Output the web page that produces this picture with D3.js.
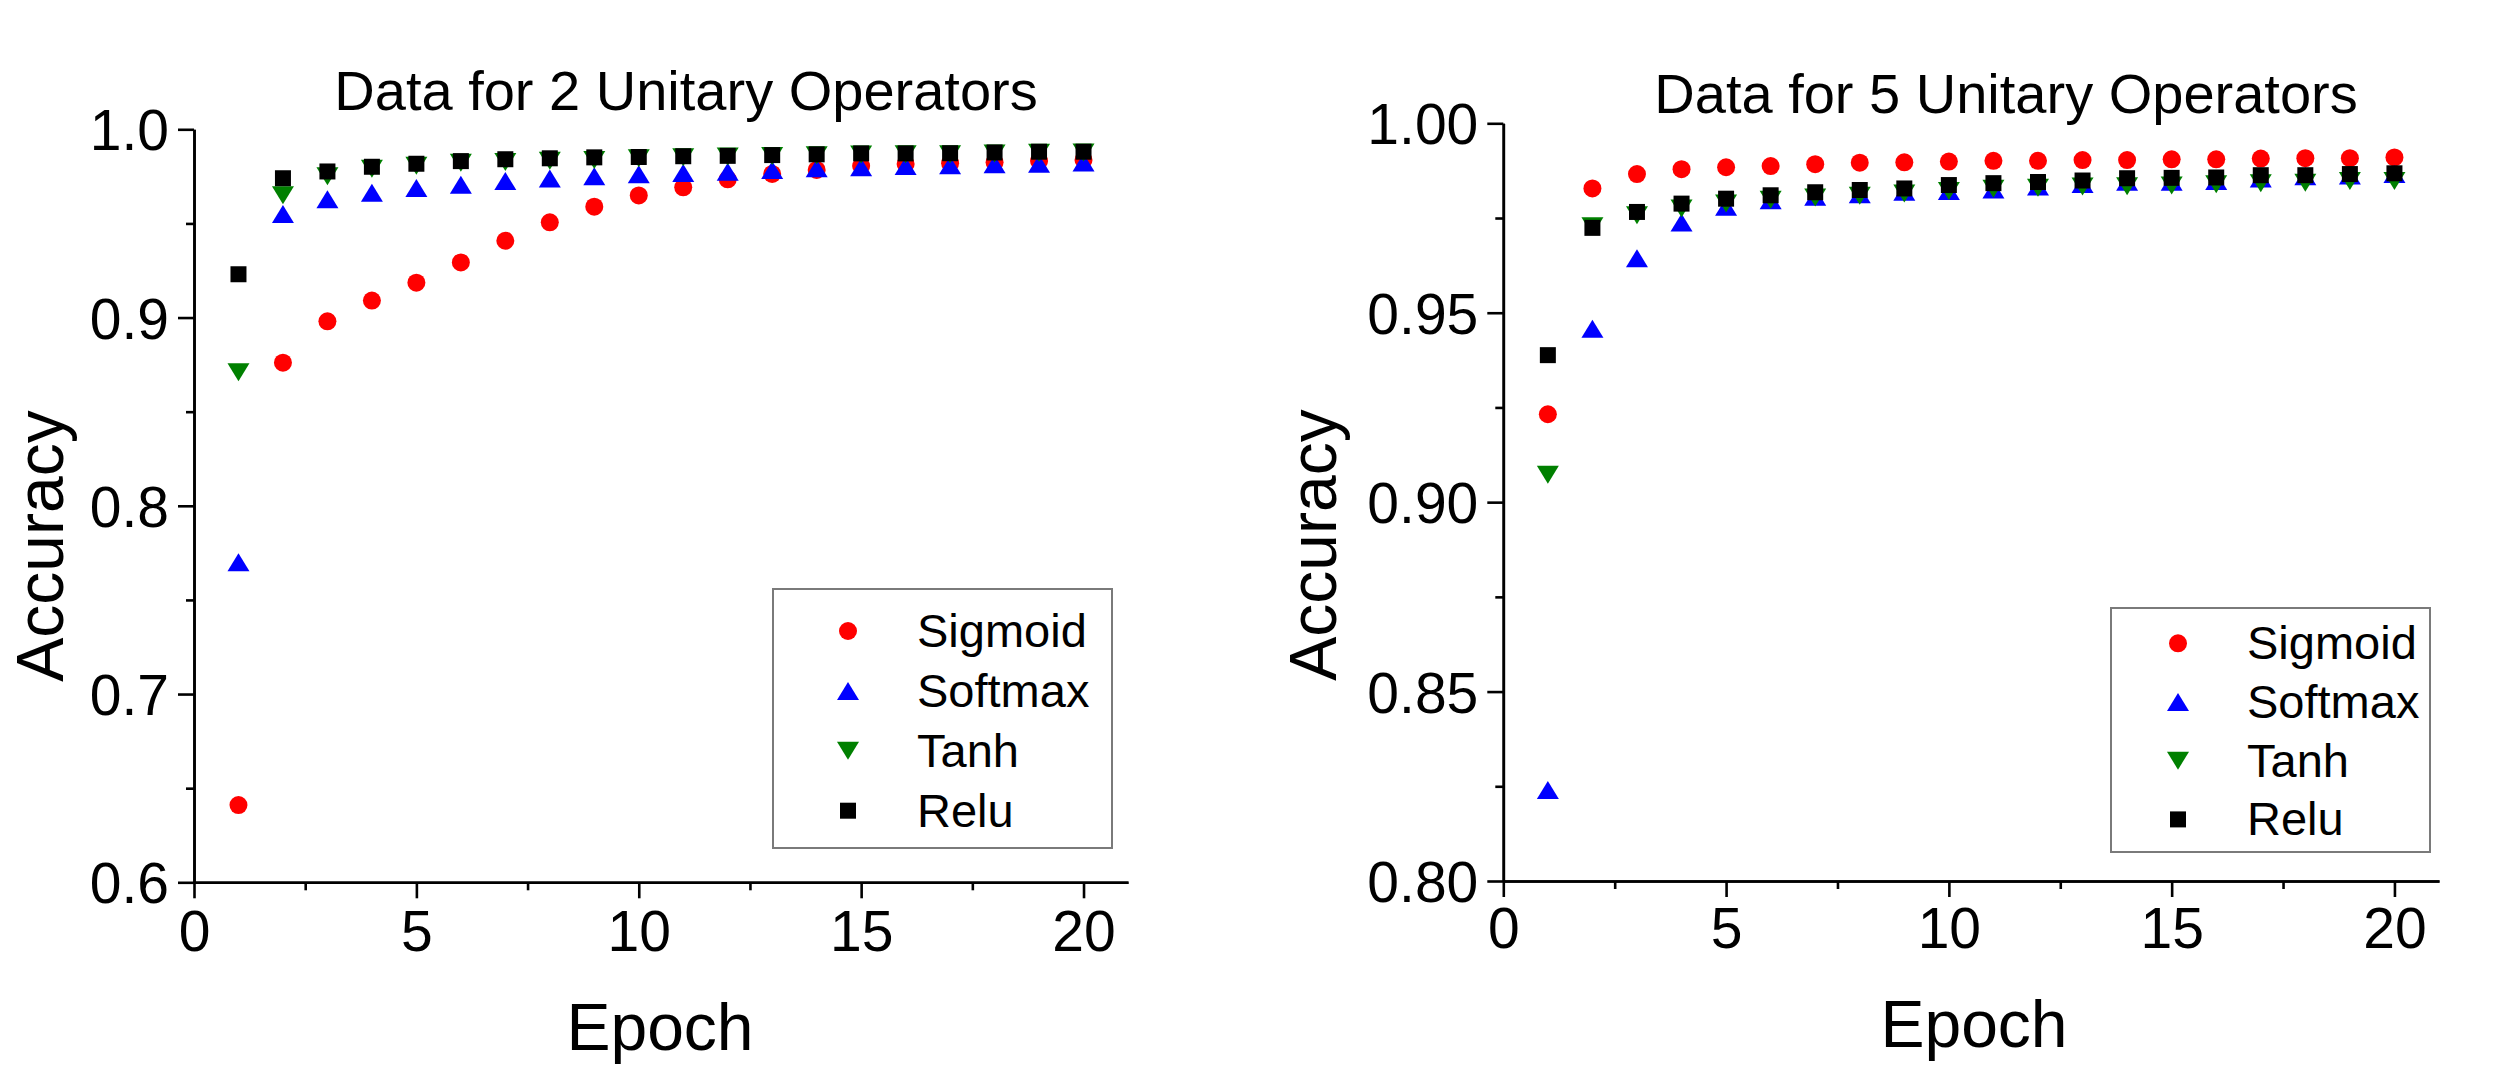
<!DOCTYPE html>
<html>
<head>
<meta charset="utf-8">
<script src="https://cdn.jsdelivr.net/npm/d3@7"></script>
<style>
  body { margin: 0; background: #fff; }
  svg { display: block; font-family: "Liberation Sans", Arial, sans-serif; }
</style>
</head>
<body>
<svg id="chart" width="2500" height="1090"></svg>
<script>
// epochs shared by both panels
var epochs = [1, 2, 3, 4, 5, 6, 7, 8, 9, 10, 11, 12, 13, 14, 15, 16, 17, 18, 19, 20];

// panel 1: 2 unitary operators
var sigmoid2 = [0.641, 0.876, 0.898, 0.909, 0.9185, 0.9293, 0.9408, 0.9506, 0.9589, 0.9649, 0.9692, 0.9734, 0.9763, 0.9784, 0.9805, 0.9816, 0.982, 0.9825, 0.9831, 0.9837];
var softmax2 = [0.770, 0.955, 0.9628, 0.9663, 0.9688, 0.9706, 0.9725, 0.9738, 0.975, 0.9761, 0.9768, 0.9775, 0.9784, 0.9793, 0.9798, 0.9805, 0.9809, 0.9814, 0.9817, 0.9823];
var tanh2 = [0.871, 0.965, 0.975, 0.979, 0.9806, 0.9822, 0.9826, 0.9833, 0.9837, 0.9846, 0.9852, 0.9855, 0.9858, 0.9862, 0.9866, 0.9867, 0.9868, 0.9872, 0.9876, 0.9877];
var relu2 = [0.923, 0.974, 0.9776, 0.9801, 0.9817, 0.9831, 0.9841, 0.9846, 0.9851, 0.9853, 0.9857, 0.9859, 0.9863, 0.9867, 0.9872, 0.9872, 0.9873, 0.9877, 0.9881, 0.9881];

// panel 2: 5 unitary operators
var sigmoid5 = [0.9232, 0.9828, 0.9866, 0.9879, 0.9884, 0.9887, 0.9892, 0.9896, 0.9897, 0.9899, 0.9901, 0.9901, 0.9903, 0.9903, 0.9905, 0.9905, 0.9907, 0.9908, 0.9908, 0.991];
var softmax5 = [0.824, 0.9458, 0.9644, 0.9738, 0.978, 0.9797, 0.9806, 0.9813, 0.9819, 0.9821, 0.9825, 0.9833, 0.984, 0.9846, 0.9846, 0.9848, 0.9854, 0.986, 0.9862, 0.9866];
var tanh5 = [0.9072, 0.9728, 0.9757, 0.9775, 0.9788, 0.9798, 0.9804, 0.9809, 0.9815, 0.9821, 0.9827, 0.983, 0.9833, 0.9834, 0.9836, 0.9839, 0.9842, 0.9843, 0.9848, 0.9848];
var relu5 = [0.9388, 0.9724, 0.9766, 0.9788, 0.9801, 0.981, 0.9818, 0.9824, 0.9828, 0.9837, 0.9842, 0.9845, 0.9849, 0.9855, 0.9856, 0.9857, 0.9863, 0.9863, 0.9866, 0.9868];

// tick labels
var xTicks = [0, 5, 10, 15, 20];
var xMinor = [2.5, 7.5, 12.5, 17.5];
var yTicks2 = [0.6, 0.7, 0.8, 0.9, 1.0];
var yMinor2 = [0.65, 0.75, 0.85, 0.95];
var yTicks5 = [0.80, 0.85, 0.90, 0.95, 1.00];
var yMinor5 = [0.825, 0.875, 0.925, 0.975];

var seriesNames = ['Sigmoid', 'Softmax', 'Tanh', 'Relu'];
var seriesColors = ['#ff0000', '#0000ff', '#008000', '#000000'];
var seriesShapes = ['circle', 'up', 'down', 'square'];

const svg = d3.select('#chart');
svg.append('rect').attr('width', 2500).attr('height', 1090).attr('fill', '#fff');

function marker(shape) {
  if (shape === 'circle') return 'M9,0A9,9 0 1,1 -9,0A9,9 0 1,1 9,0Z';
  if (shape === 'square') return 'M-8,-8H8V8H-8Z';
  if (shape === 'up') return 'M0,-9L11,9L-11,9Z';
  return 'M0,9L11,-9L-11,-9Z';
}

function drawPanel(cfg) {
  const x = d3.scaleLinear().domain([0, 21]).range(cfg.xr);
  const y = d3.scaleLinear().domain(cfg.yd).range(cfg.yr);
  const g = svg.append('g');

  // minor ticks
  g.append('g').attr('transform', 'translate(0,' + cfg.yr[0] + ')')
    .call(d3.axisBottom(x).tickValues(xMinor).tickSize(8).tickSizeOuter(0).tickFormat(''));
  g.append('g').attr('transform', 'translate(' + cfg.xr[0] + ',0)')
    .call(d3.axisLeft(y).tickValues(cfg.yMinor).tickSize(8).tickSizeOuter(0).tickFormat(''));

  // major ticks + labels
  const xa = g.append('g').attr('transform', 'translate(0,' + cfg.yr[0] + ')')
    .call(d3.axisBottom(x).tickValues(xTicks).tickSize(16).tickSizeOuter(0).tickPadding(0));
  xa.selectAll('text').attr('y', cfg.xLabelDy).attr('dy', 0);
  const ya = g.append('g').attr('transform', 'translate(' + cfg.xr[0] + ',0)')
    .call(d3.axisLeft(y).tickValues(cfg.yTicks).tickSize(16).tickSizeOuter(0)
      .tickFormat(d3.format(cfg.fmt)));
  ya.selectAll('text').attr('x', -25).attr('dy', '0.36em');

  g.selectAll('.domain, .tick line').attr('stroke', '#000').attr('stroke-width', 2.6);
  g.selectAll('.tick text').attr('fill', '#000').style('font-size', '57px')
    .style('font-family', '"Liberation Sans", Arial, sans-serif');

  // data
  cfg.series.forEach(function(vals, i) {
    g.append('g').selectAll('path')
      .data(vals)
      .enter()
      .append('path')
      .attr('d', marker(seriesShapes[i]))
      .attr('transform', (d, j) => 'translate(' + x(epochs[j]) + ',' + y(d) + ')')
      .attr('fill', seriesColors[i]);
  });

  // titles
  g.append('text').attr('x', cfg.titleX).attr('y', cfg.titleY)
    .attr('text-anchor', 'middle').style('font-size', '56px').text(cfg.title);
  g.append('text').attr('x', cfg.epochX).attr('y', cfg.epochY)
    .attr('text-anchor', 'middle').style('font-size', '66px').text('Epoch');
  g.append('text').attr('transform', 'translate(' + cfg.accX + ',' + cfg.accY + ') rotate(-90)')
    .attr('text-anchor', 'middle').style('font-size', '66px').text('Accuracy');

  // legend
  const lg = svg.append('g');
  lg.append('rect')
    .attr('x', cfg.legend[0]).attr('y', cfg.legend[1])
    .attr('width', cfg.legend[2]).attr('height', cfg.legend[3])
    .attr('fill', '#fff').attr('stroke', '#7a7a7a').attr('stroke-width', 2);
  seriesNames.forEach(function(name, i) {
    const cy = cfg.legendRow0 + i * cfg.legendStep;
    lg.append('path').attr('d', marker(seriesShapes[i]))
      .attr('transform', 'translate(' + cfg.legendMarkX + ',' + cy + ')')
      .attr('fill', seriesColors[i]);
    lg.append('text').attr('x', cfg.legendMarkX + 69).attr('y', cy + 16)
      .style('font-size', '47px').text(name);
  });
}

drawPanel({
  xr: [194, 1128], yd: [0.6, 1.0], yr: [882.3, 129.3],
  yTicks: yTicks2, yMinor: yMinor2, fmt: '.1f', xLabelDy: 69,
  series: [sigmoid2, softmax2, tanh2, relu2],
  title: 'Data for 2 Unitary Operators', titleX: 686, titleY: 110,
  epochX: 660, epochY: 1050, accX: 63, accY: 546,
  legend: [773, 589, 339, 259], legendRow0: 631, legendStep: 59.9, legendMarkX: 848
});

drawPanel({
  xr: [1503.3, 2439], yd: [0.8, 1.0], yr: [881, 123.3],
  yTicks: yTicks5, yMinor: yMinor5, fmt: '.2f', xLabelDy: 67,
  series: [sigmoid5, softmax5, tanh5, relu5],
  title: 'Data for 5 Unitary Operators', titleX: 2006, titleY: 113,
  epochX: 1974, epochY: 1047, accX: 1336, accY: 545,
  legend: [2111, 608, 319, 244], legendRow0: 643.3, legendStep: 58.7, legendMarkX: 2178
});
</script>
</body>
</html>
